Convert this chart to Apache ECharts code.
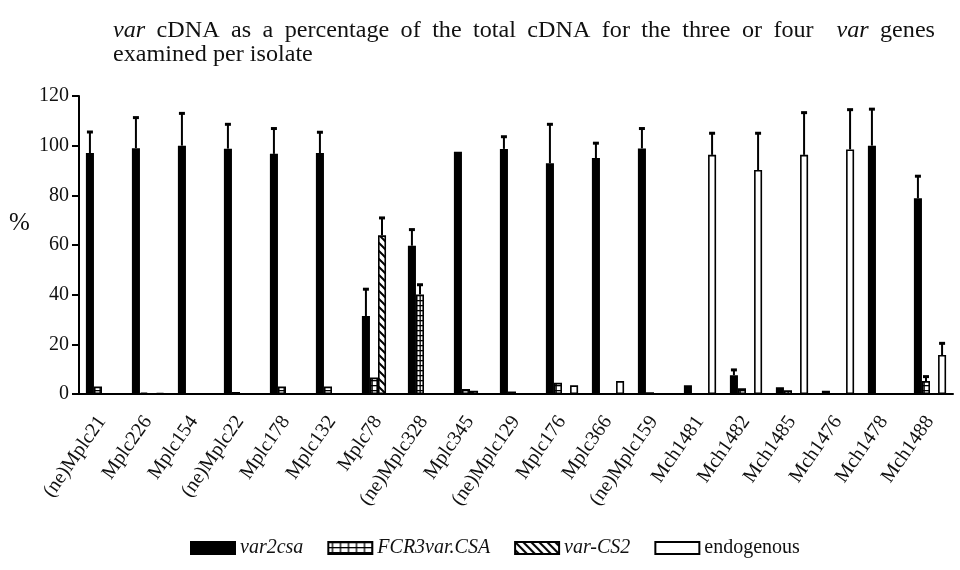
<!DOCTYPE html>
<html><head><meta charset="utf-8">
<script src="https://cdn.jsdelivr.net/npm/echarts@6/dist/echarts.min.js"></script>
<style>html,body{margin:0;padding:0;background:#fff}#c{width:960px;height:570px}</style>
</head><body><div id="c"></div>
<script>
const categories = ['(ne)Mplc21','Mplc226','Mplc154','(ne)Mplc22','Mplc178','Mplc132','Mplc78','(ne)Mplc328','Mplc345','(ne)Mplc129','Mplc176','Mplc366','(ne)Mplc159','Mch1481','Mch1482','Mch1485','Mch1476','Mch1478','Mch1488'];
const seriesNames = ['var2csa','FCR3var.CSA','var-CS2','endogenous'];
const var2csa      = [97, 99, 100, 98.8, 96.7, 97, 31.4, 59.7, 97.6, 98.7, 92.9, 95, 98.9, 3.5, 7.6, 2.7, 1.3, 100, 78.8];
const var2csaErr   = [8.5, 12.3, 13, 9.8, 10.2, 8.4, 10.8, 6.5, 0, 4.9, 15.7, 6, 8, 0, 2.1, 0, 0, 14.7, 8.9];
const fcr3         = [3, 0.6, 0, 0.8, 3, 3, 6.6, 40.1, 2, 1, 4.5, 0, 0.7, 0, 2.3, 1.5, 0, 0, 5.2];
const fcr3Err      = [0, 0, 0, 0, 0, 0, 0, 3.9, 0, 0, 0, 0, 0, 0, 0, 0, 0, 0, 1.8];
const varCS2       = [0, 0, 0, 0, 0, 0, 63.9, 0, 1.3, 0, 0, 0, 0, 0, 0, 0, 0, 0, 0];
const varCS2Err    = [0, 0, 0, 0, 0, 0, 7, 0, 0, 0, 0, 0, 0, 0, 0, 0, 0, 0, 0];
const endogenous   = [0, 0.4, 0, 0, 0, 0, 0, 0, 0, 0, 3.5, 5.2, 0, 96.3, 90.2, 96.3, 98.5, 0, 15.7];
const endogenousErr= [0, 0, 0, 0, 0, 0, 0, 0, 0, 0, 0, 0, 0, 8.7, 14.8, 17, 16, 0, 4.7];
const yTicks = [0, 20, 40, 60, 80, 100, 120];
// title words: [text, italic, gap weight before]
const titleLine1 = [['var',1,0],['cDNA',0,1],['as',0,1],['a',0,1],['percentage',0,1],['of',0,1],['the',0,1],['total',0,1],['cDNA',0,1],['for',0,1],['the',0,1],['three',0,1],['or',0,1],['four',0,1],['var',1,2],['genes',0,1]];
const titleLine2 = 'examined per isolate';
const yName = '%';

function makePattern(kind){
  const c = document.createElement('canvas');
  const ctx = c.getContext('2d');
  if(kind==='grid'){
    c.width=8; c.height=5;
    ctx.fillStyle='#fff'; ctx.fillRect(0,0,8,5);
    ctx.fillStyle='#000';
    ctx.fillRect(0,0,8,1.3);
    ctx.fillRect(3.5,0,1.3,5);
  } else {
    c.width=8; c.height=8;
    ctx.fillStyle='#fff'; ctx.fillRect(0,0,8,8);
    ctx.strokeStyle='#000'; ctx.lineWidth=2;
    ctx.beginPath();
    ctx.moveTo(-2,-2); ctx.lineTo(10,10);
    ctx.moveTo(-2,6); ctx.lineTo(2,10);
    ctx.moveTo(6,-2); ctx.lineTo(10,2);
    ctx.stroke();
  }
  return {image:c, repeat:'repeat'};
}

// justified title layout (layout only)
const TFONT = 23, TSCALE = 1.05, TX0 = 113, TX1 = 935, TY1 = 31, TY2 = 55;
const mctx = document.createElement('canvas').getContext('2d');
function fontStr(it){ return (it?'italic ':'') + TFONT + 'px "Liberation Serif"'; }
const titleGraphics = [];
let ww = 0, gw = 0;
titleLine1.forEach(w=>{ mctx.font = fontStr(w[1]); w.push(mctx.measureText(w[0]).width*TSCALE); ww += w[3]; gw += w[2]; });
const g = (TX1 - TX0 - ww) / gw;
let cx = TX0;
titleLine1.forEach(w=>{
  cx += w[2]*g;
  titleGraphics.push({type:'text', x:cx, y:TY1, scaleX:TSCALE, silent:true,
    style:{text:w[0], fill:'#111', font:fontStr(w[1]), verticalAlign:'middle'}});
  cx += w[3];
});
titleGraphics.push({type:'text', x:TX0, y:TY2, scaleX:TSCALE, silent:true,
  style:{text:titleLine2, fill:'#111', font:fontStr(0), verticalAlign:'middle'}});
titleGraphics.push({type:'text', x:9, y:211, silent:true,
  style:{text:yName, fill:'#111', font:'25px "Liberation Serif"', verticalAlign:'top'}});

const fills = ['#000', makePattern('grid'), makePattern('hatch'), '#fff'];
const values = [var2csa, fcr3, varCS2, endogenous];
const errs = [var2csaErr, fcr3Err, varCS2Err, endogenousErr];
const CAT_GAP = 0.30;

const series = [];
seriesNames.forEach((n,k)=>{
  series.push({
    name:n, type:'bar', data:values[k], barGap:'0%', barCategoryGap:(CAT_GAP*100)+'%',
    itemStyle:{color:fills[k], borderColor:'#000', borderWidth:1.6},
    emphasis:{disabled:true}, z:2
  });
});
seriesNames.forEach((n,k)=>{
  series.push({
    type:'custom', name:n+' err', z:3, silent:true,
    data: values[k].map((v,i)=>[i, v, errs[k][i]]),
    encode:{x:0,y:1},
    renderItem:function(params, api){
      const i=api.value(0), v=api.value(1), e=api.value(2);
      if(!e) return null;
      const band = api.size([1,0])[0];
      const bw = band*(1-CAT_GAP)/4;
      const x = api.coord([i,0])[0] + (k-1.5)*bw;
      const y0 = api.coord([i,v])[1];
      const y1 = api.coord([i,v+e])[1];
      return {type:'group', children:[
        {type:'line', shape:{x1:x,y1:y0,x2:x,y2:y1}, style:{stroke:'#000', lineWidth:2}},
        {type:'line', shape:{x1:x-3,y1:y1,x2:x+3,y2:y1}, style:{stroke:'#000', lineWidth:3}}
      ]};
    }
  });
});

const chart = echarts.init(document.getElementById('c'), null, {renderer:'canvas'});
chart.setOption({
  animation:false,
  backgroundColor:'#fff',
  graphic:titleGraphics,
  legend:{
    data:seriesNames, bottom:12, left:190, padding:0, icon:'rect', itemWidth:44, itemHeight:12, itemGap:24,
    selectedMode:false,
    formatter:function(n){ return n==='endogenous' ? n : '{i|'+n+'}'; },
    textStyle:{fontFamily:'Liberation Serif', fontSize:20, color:'#111',
      rich:{i:{fontStyle:'italic', fontFamily:'Liberation Serif', fontSize:20, color:'#111'}}}
  },
  grid:{left:79, right:7, top:96, bottom:176, containLabel:false},
  xAxis:{
    type:'category', data:categories,
    axisLine:{lineStyle:{color:'#000', width:2}},
    axisTick:{show:false},
    axisLabel:{rotate:55, interval:0, margin:24, fontFamily:'Liberation Serif', fontSize:20, color:'#111'}
  },
  yAxis:{
    type:'value', min:yTicks[0], max:yTicks[yTicks.length-1], interval:20,
    axisLine:{show:true, lineStyle:{color:'#000', width:2}},
    axisTick:{show:true, length:7, lineStyle:{color:'#000', width:2}},
    splitLine:{show:false},
    axisLabel:{margin:10, fontFamily:'Liberation Serif', fontSize:20, color:'#111'}
  },
  series:series
});
</script></body></html>
